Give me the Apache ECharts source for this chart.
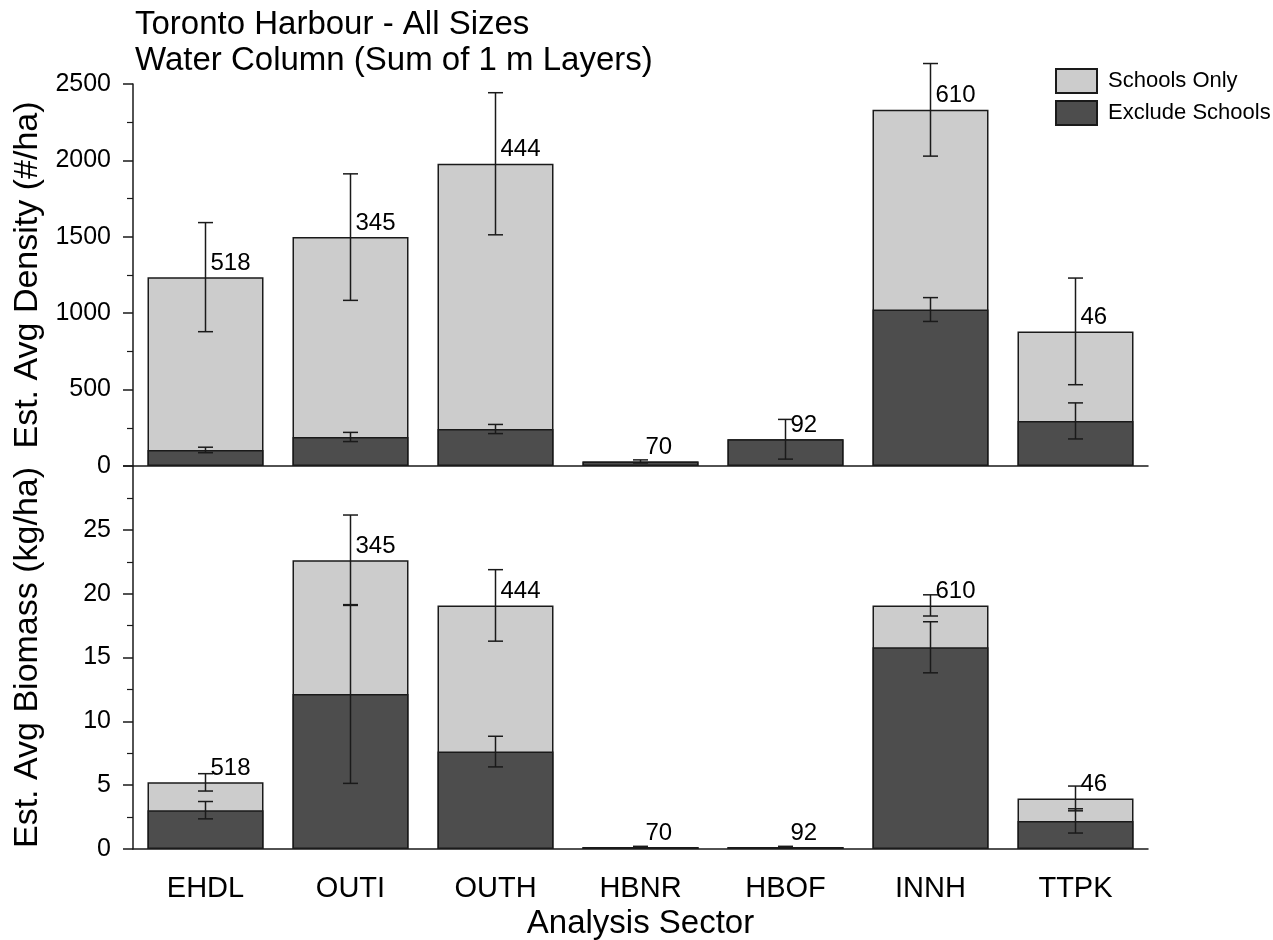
<!DOCTYPE html>
<html>
<head>
<meta charset="utf-8">
<script src="https://cdn.jsdelivr.net/npm/echarts@6/dist/echarts.min.js"></script>
<style>
  html, body { margin: 0; padding: 0; background: #fff; }
  #chart { width: 1273px; height: 940px; }
</style>
</head>
<body>
<div id="chart"></div>
<script>
// sectors along the x axis
const sectors = ['EHDL', 'OUTI', 'OUTH', 'HBNR', 'HBOF', 'INNH', 'TTPK'];
// sample counts written above each bar
const nLabels = [518, 345, 444, 70, 92, 610, 46];

// density (#/ha)
const densitySchools = [1236, 1498, 1978, 30, 175, 2331, 881];
const densityExclude = [105, 190, 242, 30, 175, 1024, 295];
const densitySchoolsErr = [357, 414, 465, null, null, 303, 349];
const densityExcludeErr = [18, 30, 30, 10, 130, 78, 118];

// biomass (kg/ha)
const biomassSchools = [5.22, 22.62, 19.08, 0.15, 0.15, 19.08, 3.96];
const biomassExclude = [3.04, 12.14, 7.63, 0.15, 0.15, 15.8, 2.2];
const biomassSchoolsErr = [0.68, 3.54, 2.8, null, null, 0.83, 0.97];
const biomassExcludeErr = [0.68, 7.0, 1.2, 0.06, 0.06, 2.0, 0.95];

const FONT = 'Liberation Sans, Arial, sans-serif';
const LIGHT = '#cccccc';
const DARK = '#4d4d4d';
const INK = '#1a1a1a';

const chart = echarts.init(document.getElementById('chart'));

function errData(vals, errs) {
  const out = [];
  vals.forEach((v, i) => {
    if (errs[i] == null) return;
    out.push([i, v - errs[i], v + errs[i]]);
  });
  return out;
}

function errSeries(idx, vals, errs) {
  return {
    type: 'custom',
    xAxisIndex: idx,
    yAxisIndex: idx,
    silent: true,
    z: 5,
    data: errData(vals, errs),
    renderItem: function (params, api) {
      const lo = api.coord([api.value(0), api.value(1)]);
      const hi = api.coord([api.value(0), api.value(2)]);
      const hw = 7.5;
      const style = { stroke: INK, lineWidth: 1.5 };
      return {
        type: 'group',
        children: [
          { type: 'line', shape: { x1: lo[0], y1: lo[1], x2: hi[0], y2: hi[1] }, style: style },
          { type: 'line', shape: { x1: lo[0] - hw, y1: lo[1], x2: lo[0] + hw, y2: lo[1] }, style: style },
          { type: 'line', shape: { x1: hi[0] - hw, y1: hi[1], x2: hi[0] + hw, y2: hi[1] }, style: style }
        ]
      };
    }
  };
}

function barSeries(idx, name, vals, color, withLabel) {
  const s = {
    name: name,
    type: 'bar',
    xAxisIndex: idx,
    yAxisIndex: idx,
    barWidth: '80%',
    barGap: '-100%',
    data: vals,
    itemStyle: { color: color, borderColor: INK, borderWidth: 1.5 },
    emphasis: { disabled: true }
  };
  if (withLabel) {
    s.label = {
      show: true,
      position: ['50%', 0],
      offset: [5, -2],
      align: 'left',
      verticalAlign: 'bottom',
      fontFamily: FONT,
      fontSize: 24,
      color: '#000',
      formatter: p => String(nLabels[p.dataIndex])
    };
  }
  return s;
}

const axisLine = { lineStyle: { color: INK, width: 1.5 } };

function yAxis(idx, max, step, name, hideTop) {
  return {
    type: 'value', gridIndex: idx, min: 0, max: max, interval: step,
    axisLine: { show: true, lineStyle: { color: INK, width: 1.5 } },
    axisTick: { show: true, length: 10, lineStyle: { color: INK, width: 1.5 } },
    minorTick: { show: true, splitNumber: 2, length: 6, lineStyle: { color: INK, width: 1.2 } },
    splitLine: { show: false },
    axisLabel: {
      fontFamily: FONT, fontSize: 25, color: '#000', margin: 22,
      formatter: v => (hideTop && v === max ? '' : String(v))
    },
    name: name,
    nameLocation: 'middle',
    nameRotate: 90,
    nameGap: 88,
    nameTextStyle: { fontFamily: FONT, fontSize: 34, color: '#000' }
  };
}

const option = {
  animation: false,
  title: {
    text: 'Toronto Harbour - All Sizes\nWater Column (Sum of 1 m Layers)',
    left: 130,
    top: 2,
    textStyle: { fontFamily: FONT, fontSize: 33, fontWeight: 'normal', color: '#000', lineHeight: 36 }
  },
  legend: {
    orient: 'vertical',
    left: 1050,
    top: 63,
    icon: 'rect',
    itemWidth: 41,
    itemHeight: 24,
    itemGap: 6,
    data: ['Schools Only', 'Exclude Schools'],
    textStyle: { fontFamily: FONT, fontSize: 22, color: '#000', padding: [0, 0, 0, 6] }
  },
  grid: [
    { left: 133, right: 125, top: 84, height: 382, outerBoundsMode: 'none' },
    { left: 133, right: 125, top: 466, height: 383, outerBoundsMode: 'none' }
  ],
  xAxis: [
    {
      type: 'category', gridIndex: 0, data: sectors,
      axisLine: axisLine,
      axisTick: { alignWithLabel: true, length: 13, lineStyle: { color: INK, width: 1.5 } },
      axisLabel: { show: false }
    },
    {
      type: 'category', gridIndex: 1, data: sectors,
      axisLine: axisLine,
      axisTick: { alignWithLabel: true, length: 13, lineStyle: { color: INK, width: 1.5 } },
      axisLabel: { fontFamily: FONT, fontSize: 29, color: '#000', margin: 25 },
      name: 'Analysis Sector',
      nameLocation: 'middle',
      nameGap: 58,
      nameTextStyle: { fontFamily: FONT, fontSize: 33, color: '#000' }
    }
  ],
  yAxis: [
    yAxis(0, 2500, 500, 'Est. Avg Density (#/ha)', false),
    yAxis(1, 30, 5, 'Est. Avg Biomass (kg/ha)', true)
  ],
  series: [
    barSeries(0, 'Schools Only', densitySchools, LIGHT, true),
    barSeries(0, 'Exclude Schools', densityExclude, DARK, false),
    errSeries(0, densitySchools, densitySchoolsErr),
    errSeries(0, densityExclude, densityExcludeErr),
    barSeries(1, 'Schools Only', biomassSchools, LIGHT, true),
    barSeries(1, 'Exclude Schools', biomassExclude, DARK, false),
    errSeries(1, biomassSchools, biomassSchoolsErr),
    errSeries(1, biomassExclude, biomassExcludeErr)
  ]
};

chart.setOption(option);
</script>
</body>
</html>
